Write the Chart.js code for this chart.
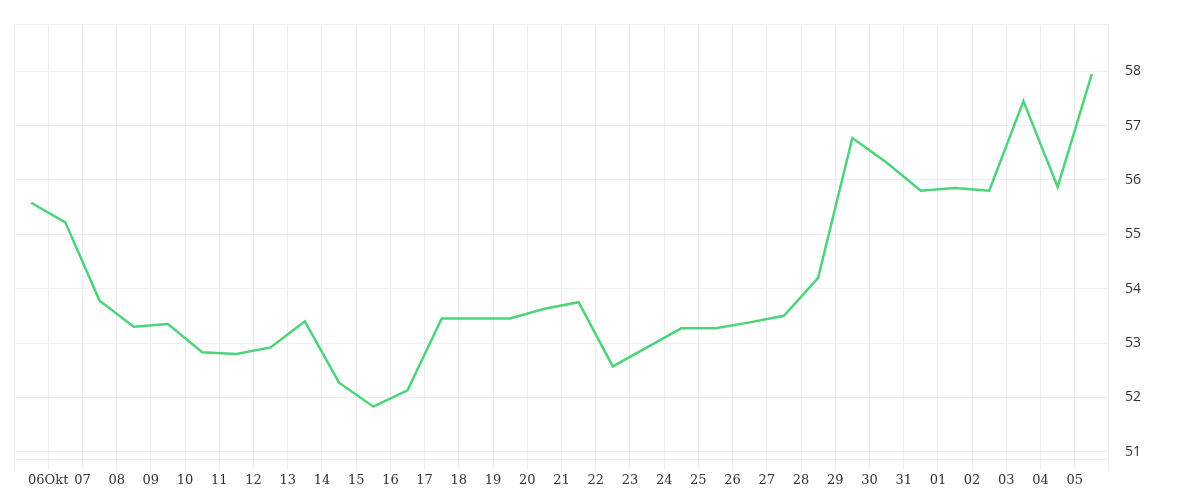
<!DOCTYPE html>
<html><head><meta charset="utf-8">
<script src="https://cdn.jsdelivr.net/npm/chart.js@4"></script>
<style>body{margin:0;background:#fff}#w{width:1200px;height:500px}</style>
</head><body><div id="w"><canvas id="c"></canvas></div>
<script>
const dayLabels = ["06Okt","07","08","09","10","11","12","13","14","15","16","17","18","19","20","21","22","23","24","25","26","27","28","29","30","31","01","02","03","04","05"];
const values = [55.58,55.22,53.78,53.3,53.35,52.83,52.8,52.92,53.4,52.27,51.83,52.13,53.45,53.45,53.45,53.63,53.75,52.57,52.92,53.27,53.27,53.38,53.5,54.2,56.77,56.32,55.8,55.85,55.8,57.45,55.87,57.95];
const pts = values.map((v,i)=>({x:i-0.5,y:v}));
new Chart(document.getElementById('c'),{
 type:'line',
 data:{datasets:[{data:pts,borderColor:'#4cd47b',borderWidth:2.5,pointRadius:0,tension:0,fill:false}]},
 options:{responsive:true,maintainAspectRatio:false,animation:false,
  layout:{padding:{left:14,right:43,top:2,bottom:9}},
  plugins:{legend:{display:false},tooltip:{enabled:false}},
  scales:{
   x:{type:'linear',min:-1,max:31,
    grid:{color:'#eeeeee',tickLength:10,drawTicks:true},
    border:{display:false},
    ticks:{stepSize:1,autoSkip:false,maxRotation:0,color:'#333',font:{family:'DejaVu Serif',size:13},
     callback:(v)=> (v>=0 && v<dayLabels.length && Number.isInteger(v)) ? dayLabels[v] : ''}},
   y:{position:'right',min:50.86,max:58.86,
    afterBuildTicks:(s)=>{s.ticks=[50.86,51,52,53,54,55,56,57,58,58.86].map(v=>({value:v}));},
    grid:{color:'#eeeeee',drawTicks:false},border:{display:false},
    ticks:{padding:16,color:'#333',font:{family:'Open Sans',size:14},
     callback:(v)=>Number.isInteger(v)?v:''}}
  }}
});
</script></body></html>
